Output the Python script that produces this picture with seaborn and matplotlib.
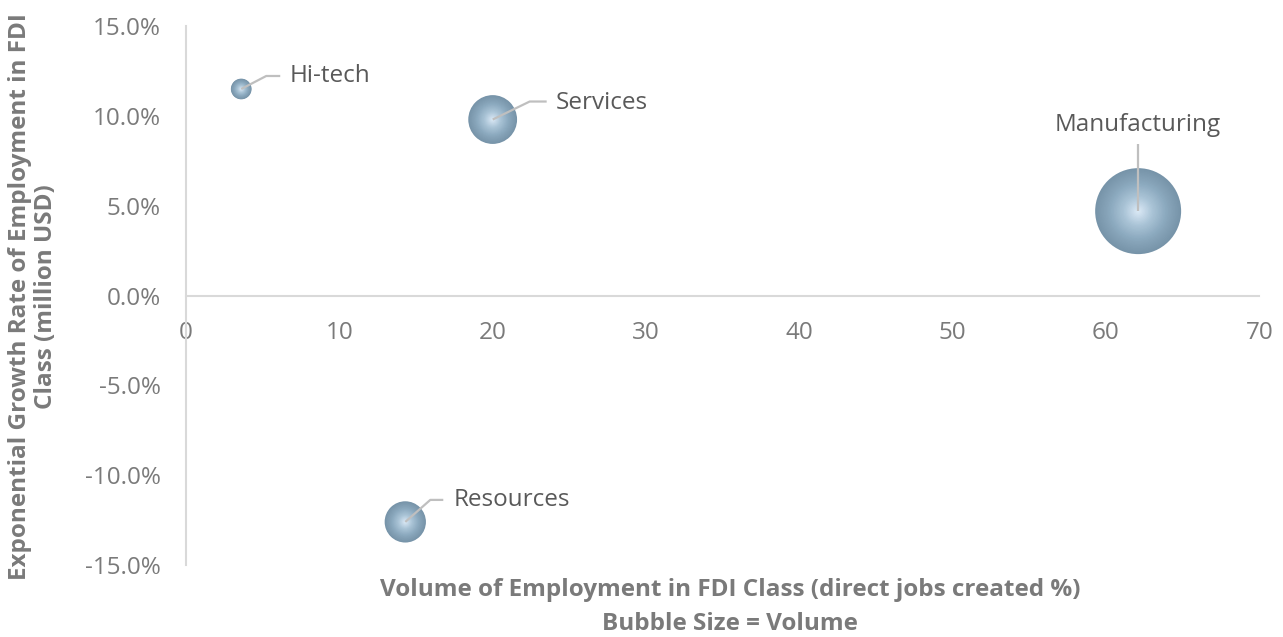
import numpy as np
import pandas as pd
import matplotlib
matplotlib.use('Agg')
import matplotlib.pyplot as plt
import matplotlib.colors as mcolors
from matplotlib.transforms import IdentityTransform
from matplotlib.ticker import FuncFormatter
import seaborn as sns

# data
sectors = ['Hi-tech', 'Services', 'Manufacturing', 'Resources']
volume = [3.6, 20.0, 62.1, 14.3]        # direct jobs created %
growth = [11.5, 9.8, 4.7, -12.6]        # exponential growth rate, %

df = pd.DataFrame({'sector': sectors, 'volume': volume, 'growth': growth})

sns.set_style('white')
plt.rcParams['font.family'] = ['Open Sans', 'DejaVu Sans']
fs = 17.5
plt.rcParams['font.size'] = fs

fig = plt.figure(figsize=(12.83, 6.37), dpi=100)
ax = fig.add_axes([0.145, 0.113, 0.8365, 0.846])

grey_axis = '#d9d9d9'
grey_text = '#7a7a7a'
label_col = '#595959'
edge_col = '#7794a9'
centre_col = '#d8e7f4'

# bubble area proportional to volume
k = 61.7
smin, smax = k * min(volume), k * max(volume)
sns.scatterplot(data=df, x='volume', y='growth', size='volume',
                sizes=(smin, smax), color=edge_col, edgecolor='none',
                legend=False, ax=ax, zorder=3)

# radial gradient: stacked smaller circles, lighter toward the centre
cmap = mcolors.LinearSegmentedColormap.from_list(
    'bub', [edge_col, '#8aa8bd', '#a9c3d6', centre_col])
n = 30
for i in range(1, n):
    f = 1 - i / n
    ax.scatter(df['volume'], df['growth'], s=df['volume'] * k * f ** 2,
               color=cmap(i / (n - 1)), edgecolor='none', zorder=3 + i / n,
               linewidths=0)

ax.set_xlim(0, 70)
ax.set_ylim(-15, 15)
ax.set_xticks(range(0, 80, 10))
ax.set_yticks(range(-15, 20, 5))
ax.yaxis.set_major_formatter(FuncFormatter(lambda v, p: f'{v:.1f}%'))
ax.tick_params(axis='both', length=0, colors=grey_text, labelsize=fs)
ax.tick_params(axis='x', pad=18)
ax.tick_params(axis='y', pad=18)

for s in ['top', 'right']:
    ax.spines[s].set_visible(False)
ax.spines['left'].set_color(grey_axis)
ax.spines['left'].set_linewidth(1.5)
ax.spines['bottom'].set_position(('data', 0))
ax.spines['bottom'].set_color(grey_axis)
ax.spines['bottom'].set_linewidth(1.5)
ax.set_xlabel('')
ax.set_ylabel('')

# labels with leader lines (pixel offsets, screen y upward)
fig.canvas.draw()
leaders = {
    'Hi-tech': [(0, 0), (25, 13), (39, 13)],
    'Services': [(0, 0), (37, 18), (54, 18)],
    'Manufacturing': [(0, 0), (0, 67)],
    'Resources': [(0, 0), (25, 22), (38, 22)],
}
text_pos = {
    'Hi-tech': ((48, 13), 'left'),
    'Services': ((63, 17), 'left'),
    'Manufacturing': ((0, 86), 'center'),
    'Resources': ((48, 22), 'left'),
}
for name, xv, yv in zip(sectors, volume, growth):
    px, py = ax.transData.transform((xv, yv))
    pts = leaders[name]
    ax.plot([px + a for a, b in pts], [py + b for a, b in pts],
            transform=IdentityTransform(), color='#bfbfbf', lw=1.6,
            zorder=10, solid_capstyle='butt')
    (dx, dy), ha = text_pos[name]
    ax.text(px + dx, py + dy, name, transform=IdentityTransform(),
            ha=ha, va='center', color=label_col, fontsize=fs, zorder=11)

fig.text(33 / 1283, 1 - 297 / 637,
         'Exponential Growth Rate of Employment in FDI\nClass (million USD)',
         rotation=90, ha='center', va='center', color=grey_text,
         fontsize=fs, fontweight='bold', linespacing=1.08)
fig.text(730 / 1283, 1 - 607 / 637,
         'Volume of Employment in FDI Class (direct jobs created %)\nBubble Size = Volume',
         ha='center', va='center', color=grey_text,
         fontsize=fs, fontweight='bold', linespacing=1.5)

fig.savefig('out.png', dpi=100)
